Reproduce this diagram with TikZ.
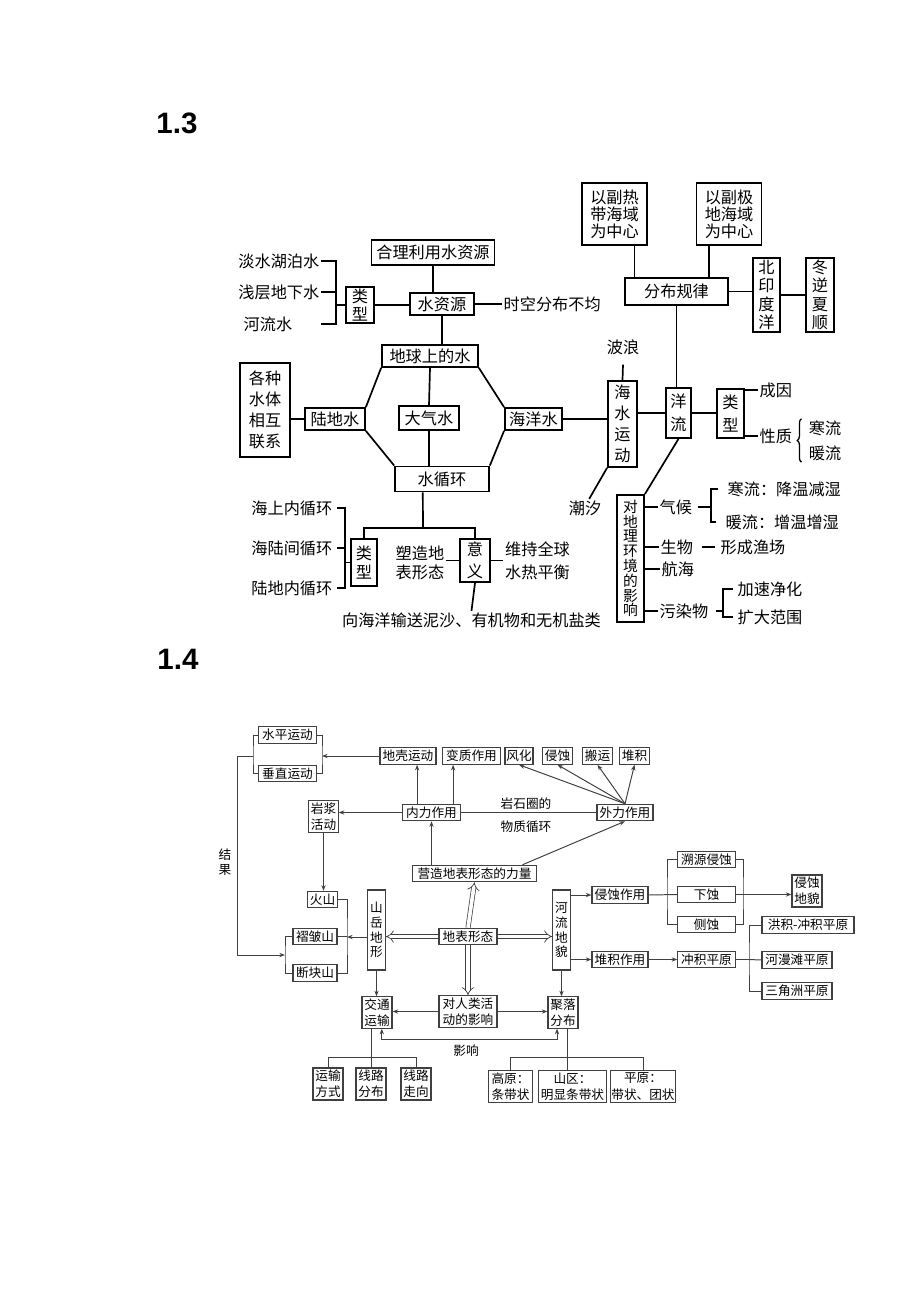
\documentclass[tikz,border=0pt]{standalone}
\usepackage{fontspec}
\setmainfont{Noto Sans CJK SC}
\newfontfamily\lsfont{Liberation Sans}
\usetikzlibrary{arrows.meta,decorations.pathreplacing}

\tikzset{
  linie/.style={draw=black, line width=1.2pt},
  kasten/.style={draw=black, line width=1.2pt, inner sep=1pt, align=center,
    font=\fontsize{11.5}{15}\selectfont},
  beschriftung/.style={inner sep=1pt, align=center, font=\fontsize{11.5}{15}\selectfont},
  klammer/.style={draw=black, line width=0.9pt, decorate, decoration={brace, amplitude=3pt}},
  feld/.style={draw=black!75, line width=0.8pt, inner sep=0.5pt, align=center,
    minimum height=0.41cm, font=\fontsize{9}{11.5}\selectfont},
  schrift/.style={inner sep=1pt, align=center, font=\fontsize{9}{11.5}\selectfont},
  duenn/.style={draw=black!75, line width=0.7pt},
  pfeil/.style={duenn, -{Stealth[length=4pt,width=3pt]}},
  doppelspitze/.style={duenn, {Stealth[length=4pt,width=3pt]}-{Stealth[length=4pt,width=3pt]}},
  doppelpfeil/.style={draw=black!75, line width=0.5pt, double, double distance=2.6pt, -{Implies}},
}

\begin{document}
\begin{tikzpicture}[x=0.025cm, y=-0.025cm]
\useasboundingbox (0,0) rectangle (920,1302);

\node[font=\lsfont\bfseries\fontsize{21}{21}\selectfont] (titel13) at (177,123) {1.3};
\node[font=\lsfont\bfseries\fontsize{21}{21}\selectfont] (titel14) at (178,659) {1.4};

% 1.3
\node[kasten, minimum width=3.08cm, minimum height=0.63cm] (heli) at (433,252.5) {合理利用水资源};
\node[kasten, minimum width=1.6cm, minimum height=0.55cm] (ziyuan) at (442,304) {水资源};
\node[kasten, minimum width=0.7cm, minimum height=0.9cm, font=\fontsize{11.5}{13}\selectfont] (leixing) at (360,305) {类\\型};
\node[beschriftung, anchor=west] (shikong) at (502,304) {时空分布不均};
\node[beschriftung, anchor=east] (danshui) at (321,261) {淡水湖泊水};
\node[beschriftung, anchor=east] (qianceng) at (321,292) {浅层地下水};
\node[beschriftung, anchor=west] (heliushui) at (242,324) {河流水};

\node[kasten, minimum width=2.4cm, minimum height=0.55cm] (diqiu) at (430,356) {地球上的水};
\node[kasten, minimum width=1.5cm, minimum height=0.55cm] (ludi) at (335,419) {陆地水};
\node[kasten, minimum width=1.5cm, minimum height=0.6cm] (daqi) at (429,418) {大气水};
\node[kasten, minimum width=1.43cm, minimum height=0.55cm] (haiyang) at (533.5,419) {海洋水};
\node[kasten, minimum width=2.35cm, minimum height=0.63cm] (xunhuan) at (442,479) {水循环};
\node[kasten, minimum width=1.25cm, minimum height=2.35cm] (lianxi) at (265,410) {各种\\水体\\相互\\联系};

\node[kasten, minimum width=2.58cm, minimum height=0.68cm] (fenbu) at (676.5,291.5) {分布规律};
\node[kasten, minimum width=1.63cm, minimum height=1.55cm, font=\fontsize{11.5}{12}\selectfont] (redai) at (614.5,214) {以副热\\带海域\\为中心};
\node[kasten, minimum width=1.63cm, minimum height=1.55cm, font=\fontsize{11.5}{12}\selectfont] (jidi) at (729,214) {以副极\\地海域\\为中心};
\node[kasten, minimum width=0.68cm, minimum height=1.85cm, font=\fontsize{11.5}{13}\selectfont] (beiyin) at (766.5,295) {北\\印\\度\\洋};
\node[kasten, minimum width=0.7cm, minimum height=1.85cm, font=\fontsize{11.5}{13}\selectfont] (dongni) at (820,295) {冬\\逆\\夏\\顺};
\node[kasten, minimum width=0.73cm, minimum height=2.15cm] (yundong) at (622.5,424) {海\\水\\运\\动};
\node[beschriftung] (bolang) at (623,347) {波浪};
\node[beschriftung] (chaoxi) at (585,508) {潮汐};
\node[kasten, minimum width=0.63cm, minimum height=1.25cm, font=\fontsize{11.5}{16}\selectfont] (yangliu) at (678.5,413) {洋\\流};
\node[kasten, minimum width=0.68cm, minimum height=1.23cm, font=\fontsize{11.5}{16.5}\selectfont] (leixingb) at (730.5,413.5) {类\\型};
\node[beschriftung, anchor=west] (chengyin) at (758,390) {成因};
\node[beschriftung, anchor=west] (xingzhi) at (758,436) {性质};
\node[beschriftung] (hanliu) at (825,428) {寒流};
\node[beschriftung] (nuanliu) at (825,453) {暖流};

\node[kasten, minimum width=0.68cm, minimum height=3.18cm, font=\fontsize{10.5}{10.5}\selectfont] (yingxiangb) at (630.5,558.5) {对\\地\\理\\环\\境\\的\\影\\响};
\node[beschriftung, anchor=west] (qihou) at (658,507) {气候};
\node[beschriftung, anchor=west] (hanjiang) at (726,489) {寒流：降温减湿};
\node[beschriftung, anchor=west] (nuanzeng) at (724,522) {暖流：增温增湿};
\node[beschriftung, anchor=west] (shengwu) at (659,547) {生物};
\node[beschriftung, anchor=west] (yuchang) at (719,547) {形成渔场};
\node[beschriftung, anchor=west] (hanghai) at (660,569) {航海};
\node[beschriftung, anchor=west] (wuran) at (658,611) {污染物};
\node[beschriftung, anchor=west] (jiasu) at (736,589) {加速净化};
\node[beschriftung, anchor=west] (kuoda) at (736,617) {扩大范围};

\node[kasten, minimum width=0.65cm, minimum height=1.18cm, font=\fontsize{11.5}{14}\selectfont] (leixingc) at (364,562.5) {类\\型};
\node[kasten, minimum width=0.75cm, minimum height=1.08cm, font=\fontsize{11.5}{15.5}\selectfont] (yiyi) at (475,560.5) {意\\义};
\node[beschriftung, anchor=east] (haishang) at (334,508) {海上内循环};
\node[beschriftung, anchor=east] (hailu) at (334,548) {海陆间循环};
\node[beschriftung, anchor=east] (ludinei) at (334,588) {陆地内循环};
\node[beschriftung, font=\fontsize{11.5}{13.5}\selectfont] (suzao) at (420,563) {塑造地\\表形态};
\node[beschriftung, font=\fontsize{11.5}{16.5}\selectfont] (weichi) at (537.5,561) {维持全球\\水热平衡};
\node[beschriftung] (xiangyang) at (471.5,620) {向海洋输送泥沙、有机物和无机盐类};

\coordinate (k1) at (336,305);
\coordinate (k2) at (711,507);
\coordinate (k3) at (723,611);
\coordinate (gabel) at (423,528);
\coordinate (k4) at (345,562.5);
\coordinate (h1) at ([xshift=0.5cm]redai.south);
\coordinate (h2) at ([xshift=-0.5cm]jidi.south);
\coordinate (x1) at ([xshift=-0.48cm]xunhuan.south);

\draw[linie] (heli.south) -- (heli.south |- ziyuan.north);
\draw[linie] (ziyuan.east) -- (shikong.west);
\draw[linie] (leixing.east) -- (leixing.east -| ziyuan.west);
\draw[linie] (danshui.east) -| (k1) |- (qianceng.east |- heliushui.east);
\draw[linie] (qianceng.east) -- (qianceng.east -| k1);
\draw[linie] (k1) -- (leixing.west);
\draw[linie] (ziyuan.south) -- (ziyuan.south |- diqiu.north);
\draw[linie] (diqiu.south west) -- (ludi.north east);
\draw[linie] (ludi.south east) -- (xunhuan.north west);
\draw[linie] (diqiu.south east) -- (haiyang.north west);
\draw[linie] (haiyang.south west) -- (xunhuan.north east);
\draw[linie] (diqiu.south) -- (daqi.north);
\draw[linie] (daqi.south) -- (daqi.south |- xunhuan.north);
\draw[linie] (lianxi.east |- ludi.west) -- (ludi.west);
\draw[linie] (haiyang.east) -- (haiyang.east -| yundong.west);
\draw[linie] (yundong.north) -- ([yshift=-6pt]bolang.south);
\draw[linie] (yundong.south west) -- ([xshift=3pt]chaoxi.north);
\draw[linie] (yundong.east |- yangliu.west) -- (yangliu.west);
\draw[linie] (h1) -- (h1 |- fenbu.north);
\draw[linie] (h2) -- (h2 |- fenbu.north);
\draw[linie] (fenbu.east) -- (fenbu.east -| beiyin.west);
\draw[linie] (beiyin.east) -- (dongni.west);
\draw[linie] (fenbu.south) -- (fenbu.south |- yangliu.north);
\draw[linie] (yangliu.east) -- (yangliu.east -| leixingb.west);
\draw[linie] (leixingb.east |- chengyin.west) -- (chengyin.west);
\draw[linie] (leixingb.east |- xingzhi.west) -- (xingzhi.west);
\draw[klammer] ([xshift=-4pt]nuanliu.south west) -- ([xshift=-4pt]hanliu.north west);
\draw[linie] (yangliu.south) -- (yingxiangb.north east);
\draw[linie] (yingxiangb.east |- qihou.west) -- (qihou.west);
\draw[linie] ([xshift=3pt]qihou.east) -- (k2);
\draw[linie] ([xshift=-6pt]hanjiang.west) -| (k2) |- ([xshift=-6pt]nuanzeng.west);
\draw[linie] (yingxiangb.east |- shengwu.west) -- (shengwu.west);
\draw[linie] ([xshift=5pt]shengwu.east) -- ([xshift=-3pt]yuchang.west);
\draw[linie] (yingxiangb.east |- hanghai.west) -- (hanghai.west);
\draw[linie] (yingxiangb.east |- wuran.west) -- (wuran.west);
\draw[linie] ([xshift=4pt]wuran.east) -- (k3);
\draw[linie] ([xshift=-2pt]jiasu.west) -| (k3) |- ([xshift=-2pt]kuoda.west);
\draw[linie] (x1) -- (gabel);
\draw[linie] (leixingc.north) |- (gabel) -| (yiyi.north);
\draw[linie] ([xshift=2pt]haishang.east) -| (k4) |- ([xshift=2pt]ludinei.east);
\draw[linie] ([xshift=2pt]hailu.east) -- (hailu.east -| k4);
\draw[linie] (k4) -- (k4 -| leixingc.west);
\draw[linie] (yiyi.west -| suzao.east) -- (yiyi.west);
\draw[linie] (yiyi.east) -- (yiyi.east -| weichi.west);
\draw[linie] (yiyi.south) -- (xiangyang.north);

% 1.4
\node[feld, minimum width=1.43cm] (shuiping) at (287.5,735) {水平运动};
\node[feld, minimum width=1.43cm] (chuizhi) at (287.5,773.5) {垂直运动};
\node[feld, minimum width=1.4cm] (diqiao) at (408,756) {地壳运动};
\node[feld, minimum width=1.43cm] (bianzhi) at (471.5,756) {变质作用};
\node[feld, minimum width=0.7cm] (fenghua) at (519,756) {风化};
\node[feld, minimum width=0.73cm] (qinshi) at (557.5,756) {侵蚀};
\node[feld, minimum width=0.73cm] (banyun) at (597.5,756) {搬运};
\node[feld, minimum width=0.73cm] (duiji) at (634.5,756) {堆积};
\node[feld, minimum width=0.73cm, minimum height=0.78cm] (yanjiang) at (323.5,816.5) {岩浆\\活动};
\node[feld, minimum width=1.43cm] (neili) at (431.5,812.5) {内力作用};
\node[feld, minimum width=1.4cm] (waili) at (625,812.5) {外力作用};
\node[schrift] (yanshi) at (526,804) {岩石圈的};
\node[schrift] (wuzhi) at (526,827) {物质循环};
\node[feld, minimum width=3.08cm] (yingzao) at (474.5,873.5) {营造地表形态的力量};
\node[schrift, font=\fontsize{9}{10.5}\selectfont] (jieguo) at (225,862) {结\\果};

\node[feld, minimum width=0.73cm] (huoshan) at (322.5,899.5) {火山};
\node[feld, minimum width=1.1cm] (zhezhou) at (315,936.5) {褶皱山};
\node[feld, minimum width=1.1cm] (duankuai) at (315,973) {断块山};
\node[feld, minimum width=0.43cm, minimum height=2cm, font=\fontsize{9}{10.5}\selectfont] (shanyue) at (376.5,930) {山\\岳\\地\\形};
\node[feld, minimum width=1.45cm] (dibiao) at (468,936.5) {地表形态};
\node[feld, minimum width=0.43cm, minimum height=2cm, font=\fontsize{9}{10.5}\selectfont] (heliudm) at (561.5,930) {河\\流\\地\\貌};
\node[feld, minimum width=1.45cm, minimum height=0.78cm] (duiren) at (468,1011.5) {对人类活\\动的影响};
\node[feld, minimum width=0.75cm, minimum height=0.78cm] (jiaotong) at (377,1012.5) {交通\\运输};
\node[feld, minimum width=0.75cm, minimum height=0.78cm] (juluo) at (563,1012.5) {聚落\\分布};
\node[schrift] (yingxiang) at (466,1051) {影响};
\node[feld, minimum width=0.75cm, minimum height=0.8cm] (yunshu) at (328,1084) {运输\\方式};
\node[feld, minimum width=0.75cm, minimum height=0.8cm] (xianlufb) at (371,1084) {线路\\分布};
\node[feld, minimum width=0.75cm, minimum height=0.8cm] (xianluzx) at (416,1084) {线路\\走向};
\node[feld, minimum width=1.08cm, minimum height=0.78cm] (gaoyuan) at (510.5,1086.5) {高原：\\条带状};
\node[feld, minimum width=1.68cm, minimum height=0.78cm] (shanqu) at (572.5,1086.5) {山区：\\明显条带状};
\node[feld, minimum width=1.5cm, minimum height=0.78cm] (pingyuan) at (643,1086.5) {平原：\\带状、团状};

\node[feld, minimum width=1.4cm] (qinshizy) at (620,895) {侵蚀作用};
\node[feld, minimum width=1.43cm] (suyuan) at (706.5,859.5) {溯源侵蚀};
\node[feld, minimum width=1.43cm] (xiashi) at (706.5,894.5) {下蚀};
\node[feld, minimum width=1.43cm] (ceshi) at (706.5,924.5) {侧蚀};
\node[feld, minimum width=0.75cm, minimum height=0.8cm] (qinshidm) at (807,891) {侵蚀\\地貌};
\node[feld, minimum width=1.4cm] (duijizy) at (620,959.5) {堆积作用};
\node[feld, minimum width=1.43cm] (chongji) at (706.5,959.5) {冲积平原};
\node[feld, minimum width=2.3cm] (hongji) at (808,925) {洪积-冲积平原};
\node[feld, minimum width=1.75cm] (heman) at (797,960) {河漫滩平原};
\node[feld, minimum width=1.75cm] (sanjiao) at (797,991) {三角洲平原};

\coordinate (kl) at (253,756);
\coordinate (kr) at (322,756);
\coordinate (links) at (237,756);
\coordinate (kl2) at (285,955);
\coordinate (kr2) at (347,937);
\coordinate (yx) at (466,1039);
\coordinate (jt) at (371,1057);
\coordinate (jl) at (567,1057);
\coordinate (k5) at (667,895);
\coordinate (k6) at (743,895);
\coordinate (k7) at (749,959.5);
\coordinate (n1) at ([xshift=-0.36cm]neili.north);
\coordinate (n2) at ([xshift=0.54cm]neili.north);
\coordinate (y1) at ([xshift=1.2cm]yingzao.north);
\coordinate (j1) at ([xshift=0.12cm]jiaotong.south);
\coordinate (j2) at ([xshift=-0.15cm]juluo.south);

\draw[duenn] (shuiping.west) -| (kl) |- (chuizhi.west);
\draw[duenn] (shuiping.east) -| (kr) |- (chuizhi.east);
\draw[pfeil] (diqiao.west) -- (kr);
\draw[pfeil] (kl) -- (links) |- (kl2);
\draw[duenn] (zhezhou.west) -| (kl2) |- (duankuai.west);
\draw[duenn] (huoshan.east) -| (kr2) |- (duankuai.east);
\draw[duenn] (zhezhou.east) -- (zhezhou.east -| kr2);
\draw[pfeil] (shanyue.west |- kr2) -- (kr2);
\draw[pfeil] (yanjiang.south) -- (yanjiang.south |- huoshan.north);
\draw[pfeil] (neili.west) -- (neili.west -| yanjiang.east);
\draw[pfeil] (n1) -- (n1 |- diqiao.south);
\draw[pfeil] (n2) -- (n2 |- bianzhi.south);
\draw[duenn] (neili.east) -- (waili.west);
\draw[pfeil] (waili.north) -- (fenghua.south);
\draw[pfeil] (waili.north) -- (qinshi.south);
\draw[pfeil] (waili.north) -- (banyun.south);
\draw[pfeil] (waili.north) -- (duiji.south);
\draw[pfeil] (yingzao.north -| neili.south) -- (neili.south);
\draw[pfeil] (y1) -- (waili.south);
\draw[doppelpfeil] (dibiao.north) -- (yingzao.south);
\draw[doppelpfeil] (dibiao.south) -- (duiren.north);
\draw[doppelpfeil] (dibiao.west) -- (dibiao.west -| shanyue.east);
\draw[doppelpfeil] (dibiao.east) -- (dibiao.east -| heliudm.west);
\draw[pfeil] (shanyue.south) -- (shanyue.south |- jiaotong.north);
\draw[pfeil] (duiren.west) -- (duiren.west -| jiaotong.east);
\draw[pfeil] (duiren.east) -- (duiren.east -| juluo.west);
\draw[pfeil] (heliudm.south) -- (heliudm.south |- juluo.north);
\draw[doppelspitze] (j1) |- (yx) -| (j2);
\draw[duenn] (jiaotong.south -| xianlufb.north) -- (xianlufb.north);
\draw[duenn] (yunshu.north) |- (jt) -| (xianluzx.north);
\draw[duenn] (jl |- juluo.south) -- (jl);
\draw[duenn] (gaoyuan.north) |- (jl) -| (pingyuan.north);
\draw[duenn] (jl) -- (jl |- shanqu.north);
\draw[pfeil] (heliudm.east |- qinshizy.west) -- (qinshizy.west);
\draw[pfeil] (heliudm.east |- duijizy.west) -- (duijizy.west);
\draw[duenn] (qinshizy.east) -- (xiashi.west);
\draw[duenn] (suyuan.west) -| (k5) |- (ceshi.west);
\draw[duenn] (suyuan.east) -| (k6) |- (ceshi.east);
\draw[pfeil] (xiashi.east) -- (xiashi.east -| qinshidm.west);
\draw[pfeil] (duijizy.east) -- (chongji.west);
\draw[duenn] (chongji.east) -- (k7);
\draw[duenn] (hongji.west) -| (k7) |- (sanjiao.west);
\draw[duenn] (k7) -- (heman.west);

\end{tikzpicture}
\end{document}
